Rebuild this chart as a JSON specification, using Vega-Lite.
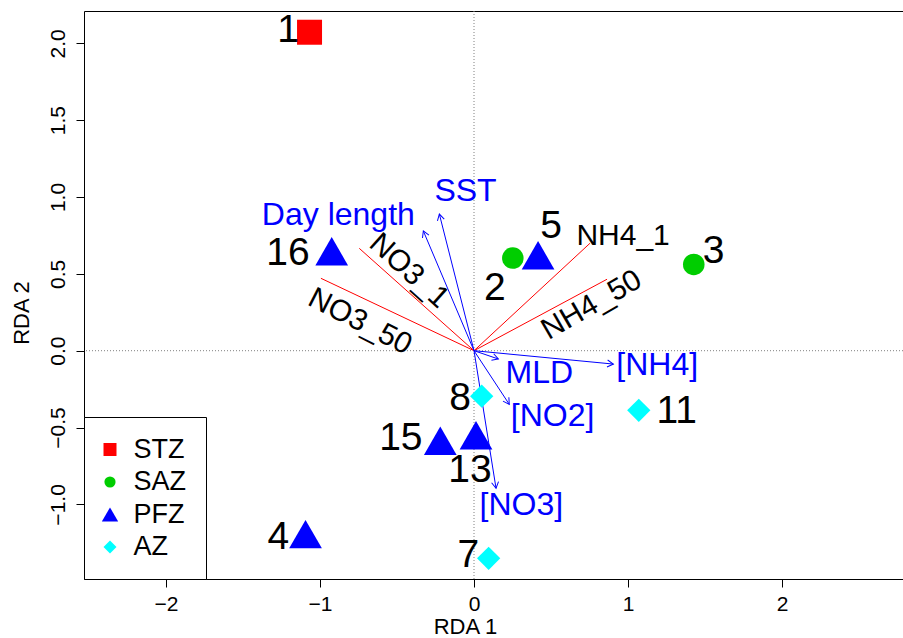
{
  "$schema": "https://vega.github.io/schema/vega-lite/v6.json",
  "width": 819,
  "height": 568,
  "autosize": {"type": "none"},
  "padding": {"left": 84, "top": 11, "right": 0, "bottom": 59},
  "background": "white",
  "config": {
    "view": {"stroke": null},
    "font": "Liberation Sans",
    "axis": {
      "grid": false,
      "domainColor": "black",
      "domainWidth": 1,
      "tickColor": "black",
      "tickWidth": 1,
      "tickSize": 8,
      "labelFont": "Liberation Sans",
      "labelFontSize": 21,
      "labelColor": "black",
      "titleFont": "Liberation Sans",
      "titleFontSize": 22,
      "titleFontWeight": "normal",
      "titleColor": "black"
    }
  },
  "datasets": {
    "sites": [
      {"id": "1", "zone": "STZ", "x": -1.068, "y": 2.072},
      {"id": "2", "zone": "SAZ", "x": 0.252, "y": 0.603},
      {"id": "3", "zone": "SAZ", "x": 1.427, "y": 0.561},
      {"id": "4", "zone": "PFZ", "x": -1.094, "y": -1.194},
      {"id": "5", "zone": "PFZ", "x": 0.416, "y": 0.621},
      {"id": "7", "zone": "AZ", "x": 0.095, "y": -1.351},
      {"id": "8", "zone": "AZ", "x": 0.05, "y": -0.296},
      {"id": "11", "zone": "AZ", "x": 1.07, "y": -0.388},
      {"id": "13", "zone": "PFZ", "x": 0.013, "y": -0.55},
      {"id": "15", "zone": "PFZ", "x": -0.219, "y": -0.586},
      {"id": "16", "zone": "PFZ", "x": -0.924, "y": 0.647}
    ],
    "siteLabels": [
      {"label": "1", "x": -1.208, "y": 2.084},
      {"label": "16", "x": -1.208, "y": 0.634},
      {"label": "2", "x": 0.136, "y": 0.41},
      {"label": "5", "x": 0.5, "y": 0.812},
      {"label": "3", "x": 1.555, "y": 0.647},
      {"label": "8", "x": -0.091, "y": -0.309},
      {"label": "11", "x": 1.316, "y": -0.394},
      {"label": "15", "x": -0.475, "y": -0.568},
      {"label": "13", "x": -0.026, "y": -0.774},
      {"label": "4", "x": -1.271, "y": -1.213},
      {"label": "7", "x": -0.037, "y": -1.332}
    ],
    "env": [
      {"var": "SST", "x": -0.225, "y": 0.889},
      {"var": "Day length", "x": -0.329, "y": 0.779},
      {"var": "MLD", "x": 0.158, "y": -0.054},
      {"var": "[NH4]", "x": 0.905, "y": -0.087},
      {"var": "[NO2]", "x": 0.229, "y": -0.349},
      {"var": "[NO3]", "x": 0.143, "y": -0.895}
    ],
    "envLabels": [
      {"label": "SST", "x": -0.055, "y": 1.036},
      {"label": "Day length", "x": -0.881, "y": 0.882},
      {"label": "MLD", "x": 0.424, "y": -0.146},
      {"label": "[NH4]", "x": 1.19, "y": -0.096},
      {"label": "[NO2]", "x": 0.51, "y": -0.422},
      {"label": "[NO3]", "x": 0.307, "y": -1.007}
    ],
    "species": [
      {"var": "NO3_1", "x": -0.745, "y": 0.666},
      {"var": "NO3_50", "x": -0.994, "y": 0.471},
      {"var": "NH4_1", "x": 0.753, "y": 0.699},
      {"var": "NH4_50", "x": 0.864, "y": 0.465}
    ],
    "speciesLabels": [
      {"label": "NO3_1", "x": -0.422, "y": 0.519},
      {"label": "NO3_50", "x": -0.74, "y": 0.189},
      {"label": "NH4_1", "x": 0.968, "y": 0.744},
      {"label": "NH4_50", "x": 0.764, "y": 0.297}
    ]
  },
  "resolve": {"axis": {"x": "independent"}},
  "layer": [
    {
      "data": {"values": [{"x": 0}]},
      "mark": {"type": "rule", "color": "#808080", "strokeDash": [1, 2], "strokeWidth": 1},
      "encoding": {
        "x": {"field": "x", "type": "quantitative", "scale": {"domain": [-2.5325, 2.7857], "nice": false, "zero": false},
          "axis": {"orient": "top", "labels": false, "ticks": false, "title": null, "domain": true}}
      }
    },
    {
      "data": {"values": [{"y": 0}]},
      "mark": {"type": "rule", "color": "#808080", "strokeDash": [1, 2], "strokeWidth": 1},
      "encoding": {
        "y": {"field": "y", "type": "quantitative", "scale": {"domain": [-1.4854, 2.2102], "nice": false, "zero": false},
          "axis": {"values": [-1, -0.5, 0, 0.5, 1, 1.5, 2], "format": ".1f", "labelAngle": -90, "labelAlign": "center", "labelBaseline": "bottom", "labelPadding": 8, "title": "RDA 2", "titleX": -62.7, "titleY": 301.5, "titleAngle": -90, "titleAlign": "center", "titleBaseline": "middle"}}
      }
    },
    {
      "data": {"name": "species"},
      "mark": {"type": "rule", "color": "#FF0000", "strokeWidth": 1},
      "encoding": {
        "x": {"field": "x", "type": "quantitative", "scale": {"domain": [-2.5325, 2.7857], "nice": false, "zero": false}, "axis": null},
        "y": {"field": "y", "type": "quantitative", "scale": {"domain": [-1.4854, 2.2102], "nice": false, "zero": false}},
        "x2": {"datum": 0},
        "y2": {"datum": 0}
      }
    },
    {
      "data": {"name": "env"},
      "mark": {"type": "rule", "color": "#0000FF", "strokeWidth": 1},
      "encoding": {
        "x": {"field": "x", "type": "quantitative", "scale": {"domain": [-2.5325, 2.7857], "nice": false, "zero": false}, "axis": null},
        "y": {"field": "y", "type": "quantitative", "scale": {"domain": [-1.4854, 2.2102], "nice": false, "zero": false}},
        "x2": {"datum": 0},
        "y2": {"datum": 0}
      }
    },
    {
      "data": {"name": "env"},
      "transform": [{"calculate": "atan2(datum.x, datum.y) * 180 / PI", "as": "heading"}],
      "mark": {"type": "point", "shape": "M-0.5,0.87L0,0L0.5,0.87", "filled": false, "color": "#0000FF", "strokeWidth": 1, "size": 196, "opacity": 1},
      "encoding": {
        "x": {"field": "x", "type": "quantitative", "scale": {"domain": [-2.5325, 2.7857], "nice": false, "zero": false}, "axis": null},
        "y": {"field": "y", "type": "quantitative", "scale": {"domain": [-1.4854, 2.2102], "nice": false, "zero": false}},
        "angle": {"field": "heading", "type": "quantitative", "scale": null}
      }
    },
    {
      "data": {"name": "sites"},
      "transform": [{"filter": "datum.zone === 'STZ'"}],
      "mark": {"type": "point", "filled": true, "opacity": 1, "strokeWidth": 0, "size": 625},
      "encoding": {
        "x": {"field": "x", "type": "quantitative", "scale": {"domain": [-2.5325, 2.7857], "nice": false, "zero": false},
          "axis": {"values": [-2, -1, 0, 1, 2], "format": "d", "labelPadding": 6, "title": "RDA 1", "titleX": 381, "titleY": 54, "titleAlign": "center", "titleBaseline": "alphabetic"}},
        "y": {"field": "y", "type": "quantitative", "scale": {"domain": [-1.4854, 2.2102], "nice": false, "zero": false}},
        "color": {"field": "zone", "type": "nominal",
          "scale": {"domain": ["STZ", "SAZ", "PFZ", "AZ"], "range": ["#FF0000", "#00CD00", "#0000FF", "#00FFFF"]},
          "legend": {"title": null, "orient": "bottom-left", "offset": 0, "strokeColor": "black", "fillColor": "white", "padding": 19, "rowPadding": 4.5, "labelFontSize": 27, "labelFont": "Liberation Sans", "labelColor": "black", "labelOffset": 10, "symbolOffset": -6.5, "symbolSize": 170, "symbolStrokeWidth": 0, "symbolOpacity": 1,
            "encode": {"symbols": {"update": {"size": {"signal": "datum.value === 'PFZ' ? 266 : (datum.value === 'SAZ' ? 125 : 169)"}}}}}},
        "shape": {"field": "zone", "type": "nominal",
          "scale": {"domain": ["STZ", "SAZ", "PFZ", "AZ"], "range": ["square", "circle", "triangle-up", "diamond"]}}
      }
    },
    {
      "data": {"name": "sites"},
      "transform": [{"filter": "datum.zone === 'SAZ'"}],
      "mark": {"type": "point", "filled": true, "opacity": 1, "strokeWidth": 0, "size": 464},
      "encoding": {
        "x": {"field": "x", "type": "quantitative", "scale": {"domain": [-2.5325, 2.7857], "nice": false, "zero": false}, "axis": null},
        "y": {"field": "y", "type": "quantitative", "scale": {"domain": [-1.4854, 2.2102], "nice": false, "zero": false}},
        "color": {"field": "zone", "type": "nominal", "scale": {"domain": ["STZ", "SAZ", "PFZ", "AZ"], "range": ["#FF0000", "#00CD00", "#0000FF", "#00FFFF"]}},
        "shape": {"field": "zone", "type": "nominal", "scale": {"domain": ["STZ", "SAZ", "PFZ", "AZ"], "range": ["square", "circle", "triangle-up", "diamond"]}}
      }
    },
    {
      "data": {"name": "sites"},
      "transform": [{"filter": "datum.zone === 'PFZ'"}],
      "mark": {"type": "point", "filled": true, "opacity": 1, "strokeWidth": 0, "size": 1069},
      "encoding": {
        "x": {"field": "x", "type": "quantitative", "scale": {"domain": [-2.5325, 2.7857], "nice": false, "zero": false}, "axis": null},
        "y": {"field": "y", "type": "quantitative", "scale": {"domain": [-1.4854, 2.2102], "nice": false, "zero": false}},
        "color": {"field": "zone", "type": "nominal", "scale": {"domain": ["STZ", "SAZ", "PFZ", "AZ"], "range": ["#FF0000", "#00CD00", "#0000FF", "#00FFFF"]}},
        "shape": {"field": "zone", "type": "nominal", "scale": {"domain": ["STZ", "SAZ", "PFZ", "AZ"], "range": ["square", "circle", "triangle-up", "diamond"]}}
      }
    },
    {
      "data": {"name": "sites"},
      "transform": [{"filter": "datum.zone === 'AZ'"}],
      "mark": {"type": "point", "filled": true, "opacity": 1, "strokeWidth": 0, "size": 543},
      "encoding": {
        "x": {"field": "x", "type": "quantitative", "scale": {"domain": [-2.5325, 2.7857], "nice": false, "zero": false}, "axis": null},
        "y": {"field": "y", "type": "quantitative", "scale": {"domain": [-1.4854, 2.2102], "nice": false, "zero": false}},
        "color": {"field": "zone", "type": "nominal", "scale": {"domain": ["STZ", "SAZ", "PFZ", "AZ"], "range": ["#FF0000", "#00CD00", "#0000FF", "#00FFFF"]}},
        "shape": {"field": "zone", "type": "nominal", "scale": {"domain": ["STZ", "SAZ", "PFZ", "AZ"], "range": ["square", "circle", "triangle-up", "diamond"]}}
      }
    },
    {
      "data": {"name": "siteLabels"},
      "mark": {"type": "text", "fontSize": 39, "align": "center", "baseline": "middle", "color": "black", "font": "Liberation Sans"},
      "encoding": {
        "x": {"field": "x", "type": "quantitative", "scale": {"domain": [-2.5325, 2.7857], "nice": false, "zero": false}, "axis": null},
        "y": {"field": "y", "type": "quantitative", "scale": {"domain": [-1.4854, 2.2102], "nice": false, "zero": false}},
        "text": {"field": "label", "type": "nominal"}
      }
    },
    {
      "data": {"name": "envLabels"},
      "mark": {"type": "text", "fontSize": 32, "align": "center", "baseline": "middle", "color": "#0000FF", "font": "Liberation Sans"},
      "encoding": {
        "x": {"field": "x", "type": "quantitative", "scale": {"domain": [-2.5325, 2.7857], "nice": false, "zero": false}, "axis": null},
        "y": {"field": "y", "type": "quantitative", "scale": {"domain": [-1.4854, 2.2102], "nice": false, "zero": false}},
        "text": {"field": "label", "type": "nominal"}
      }
    },
    {
      "data": {"name": "speciesLabels"},
      "transform": [{"filter": "datum.label === 'NO3_1'"}],
      "mark": {"type": "text", "fontSize": 30, "align": "center", "baseline": "middle", "color": "black", "font": "Liberation Sans", "angle": 42},
      "encoding": {
        "x": {"field": "x", "type": "quantitative", "scale": {"domain": [-2.5325, 2.7857], "nice": false, "zero": false}, "axis": null},
        "y": {"field": "y", "type": "quantitative", "scale": {"domain": [-1.4854, 2.2102], "nice": false, "zero": false}},
        "text": {"field": "label", "type": "nominal"}
      }
    },
    {
      "data": {"name": "speciesLabels"},
      "transform": [{"filter": "datum.label === 'NO3_50'"}],
      "mark": {"type": "text", "fontSize": 30, "align": "center", "baseline": "middle", "color": "black", "font": "Liberation Sans", "angle": 27},
      "encoding": {
        "x": {"field": "x", "type": "quantitative", "scale": {"domain": [-2.5325, 2.7857], "nice": false, "zero": false}, "axis": null},
        "y": {"field": "y", "type": "quantitative", "scale": {"domain": [-1.4854, 2.2102], "nice": false, "zero": false}},
        "text": {"field": "label", "type": "nominal"}
      }
    },
    {
      "data": {"name": "speciesLabels"},
      "transform": [{"filter": "datum.label === 'NH4_1'"}],
      "mark": {"type": "text", "fontSize": 30, "align": "center", "baseline": "middle", "color": "black", "font": "Liberation Sans", "angle": 0},
      "encoding": {
        "x": {"field": "x", "type": "quantitative", "scale": {"domain": [-2.5325, 2.7857], "nice": false, "zero": false}, "axis": null},
        "y": {"field": "y", "type": "quantitative", "scale": {"domain": [-1.4854, 2.2102], "nice": false, "zero": false}},
        "text": {"field": "label", "type": "nominal"}
      }
    },
    {
      "data": {"name": "speciesLabels"},
      "transform": [{"filter": "datum.label === 'NH4_50'"}],
      "mark": {"type": "text", "fontSize": 30, "align": "center", "baseline": "middle", "color": "black", "font": "Liberation Sans", "angle": -30},
      "encoding": {
        "x": {"field": "x", "type": "quantitative", "scale": {"domain": [-2.5325, 2.7857], "nice": false, "zero": false}, "axis": null},
        "y": {"field": "y", "type": "quantitative", "scale": {"domain": [-1.4854, 2.2102], "nice": false, "zero": false}},
        "text": {"field": "label", "type": "nominal"}
      }
    }
  ]
}
